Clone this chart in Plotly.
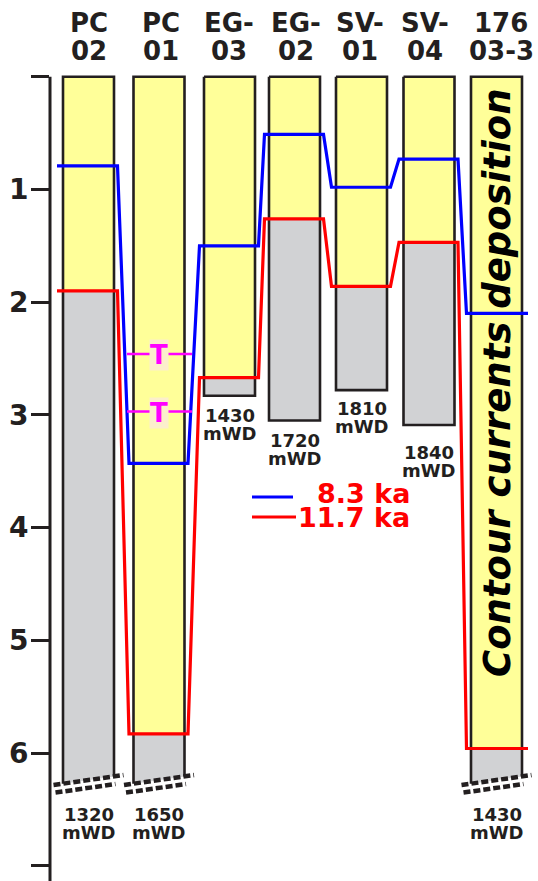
import plotly.graph_objects as go

# ---------------- data ----------------
header_top = ["PC", "PC", "EG-", "EG-", "SV-", "SV-", "176"]
header_bottom = ["02", "01", "03", "02", "01", "04", "03-3"]
water_depth = ["1320", "1650", "1430", "1720", "1810", "1840", "1430"]
depth_8_3ka = [0.79, 3.43, 1.50, 0.51, 0.98, 0.73, 2.10]
depth_11_7ka = [1.90, 5.83, 2.67, 1.26, 1.86, 1.47, 5.96]
core_bottom = [6.24, 6.24, 2.83, 3.05, 2.78, 3.09, 6.24]
core_broken = [True, True, False, False, False, False, True]
tephra_core = 1
tephra_depths = [2.46, 2.97]
y_ticks = [0, 1, 2, 3, 4, 5, 6, 7]
y_ticktext = ["", "1", "2", "3", "4", "5", "6", "7"]
legend_labels = ["8.3 ka", "11.7 ka"]

# ---------------- layout helpers ----------------
W, H = 538, 881
LEFT = 50
PX0, PXU = 76.8, 112.7          # pixel row of depth 0, pixels per metre
def d(px):
    return (px - PX0) / PXU
def dd(px):
    return px / PXU

centers = [88.5, 159, 229.5, 294.5, 361.5, 429, 496.5]
header_x = [89, 161, 229, 296, 360, 425, 501]
col_hw = 25.5
label_off = [34, 34, 20, 19.5, 18.5, 27, 34]

YELLOW = "#ffff99"
GRAY = "#d1d2d4"
INK = "#231f20"
BLUE = "#0000ff"
RED = "#ff0000"
MAGENTA = "#ff00ff"
FONT = "DejaVu Sans"

fig = go.Figure()

def poly(xs, ys, fill=None, color=None, width=0, dash=None):
    fig.add_trace(go.Scatter(
        x=xs, y=ys, mode="lines",
        fill="toself" if fill else None,
        fillcolor=fill,
        line=dict(color=color or "rgba(0,0,0,0)", width=width, dash=dash),
        hoverinfo="skip", showlegend=False))

slant = dd(3.6)
for i, cx in enumerate(centers):
    L, R = cx - col_hw, cx + col_hw
    mid = depth_11_7ka[i]
    if core_broken[i]:
        bl, br = core_bottom[i] + slant, core_bottom[i] - slant
    else:
        bl = br = core_bottom[i]
    poly([L, R, R, L, L], [0, 0, mid, mid, 0], fill=YELLOW)
    poly([L, R, R, L, L], [mid, mid, br, bl, mid], fill=GRAY)
    if core_broken[i]:
        poly([L, L, R, R], [bl, 0, 0, br], color=INK, width=2.6)
        b = core_bottom[i]
        poly([cx - 35, cx + 35], [b + dd(5), b - dd(5)], color=INK, width=4.5, dash="7px,3px")
        poly([cx - 33, cx + 27], [b + dd(12.5), b + dd(4)], color=INK, width=4.5, dash="7px,3px")
    else:
        poly([L, R, R, L, L], [0, 0, br, bl, 0], color=INK, width=2.6)

def horizon(values, color):
    xs, ys = [], []
    n = len(values)
    for i, (cx, v) in enumerate(zip(centers, values)):
        xl = cx - (31.5 if i == 0 else 30)
        xr = cx + (31.5 if i == n - 1 else 29)
        xs += [xl, xr]
        ys += [v, v]
    poly(xs, ys, color=color, width=3.2)

horizon(depth_11_7ka, RED)
horizon(depth_8_3ka, BLUE)

# tephra markers
tcx = centers[tephra_core]
for td in tephra_depths:
    poly([tcx - 32, tcx + 33], [td, td], color=MAGENTA, width=2.5)

ann = []
for td in tephra_depths:
    ann.append(dict(x=tcx, y=td + dd(1), text="T", showarrow=False,
                    font=dict(family=FONT, size=26, color=MAGENTA, weight="bold"),
                    bgcolor="#fcefcc", borderpad=0, xanchor="center", yanchor="middle"))

# headers
for hx, t1, t2 in zip(header_x, header_top, header_bottom):
    ann.append(dict(x=hx, y=d(23), text=t1, showarrow=False,
                    font=dict(family=FONT, size=26, color=INK, weight="bold"),
                    xanchor="center", yanchor="middle"))
    ann.append(dict(x=hx, y=d(51), text=t2, showarrow=False,
                    font=dict(family=FONT, size=26, color=INK, weight="bold"),
                    xanchor="center", yanchor="middle"))

# water depth labels
for i, cx in enumerate(centers):
    top_px = PX0 + PXU * core_bottom[i] + label_off[i]
    ann.append(dict(x=cx, y=d(top_px), text=water_depth[i], showarrow=False,
                    font=dict(family=FONT, size=18, color=INK, weight="bold"),
                    xanchor="center", yanchor="middle"))
    ann.append(dict(x=cx, y=d(top_px + 18), text="mWD", showarrow=False,
                    font=dict(family=FONT, size=18, color=INK, weight="bold"),
                    xanchor="center", yanchor="middle"))

# rotated text
ann.append(dict(x=497, y=d(383), text="Contour currents deposition", showarrow=False,
                textangle=-90,
                font=dict(family=FONT, size=37, color="#000000", weight="bold", style="italic"),
                xanchor="center", yanchor="middle"))

# legend
leg_colors = [BLUE, RED]
leg_y = [497, 517]
leg_x1 = [293, 296]
for lab, c, ly, lx1 in zip(legend_labels, leg_colors, leg_y, leg_x1):
    poly([252, lx1], [d(ly), d(ly)], color=c, width=3.2)
    ann.append(dict(x=412, y=d(ly - 4 if lab == legend_labels[0] else ly), text=lab,
                    showarrow=False,
                    font=dict(family=FONT, size=27, color=RED, weight="bold"),
                    xanchor="right", yanchor="middle"))

fig.update_layout(
    width=W, height=H,
    margin=dict(l=LEFT, r=0, t=0, b=0),
    plot_bgcolor="white", paper_bgcolor="white",
    showlegend=False,
    annotations=ann,
    shapes=[dict(type="line", xref="paper", yref="y", x0=0, x1=0,
                 y0=0, y1=d(H), line=dict(color=INK, width=3))],
    xaxis=dict(range=[LEFT, W], visible=False, fixedrange=True),
    yaxis=dict(range=[d(H), d(0)], showgrid=False, zeroline=False, showline=False,
               tickvals=y_ticks, ticktext=y_ticktext, ticks="outside",
               ticklen=18, tickwidth=3, tickcolor=INK, ticklabelstandoff=-3,
               tickfont=dict(family=FONT, size=28, color=INK, weight="bold"),
               fixedrange=True),
)

fig.write_html("out.html", config={"displayModeBar": False},
               post_script="document.body.style.margin='0px';document.body.style.overflow='hidden';")
